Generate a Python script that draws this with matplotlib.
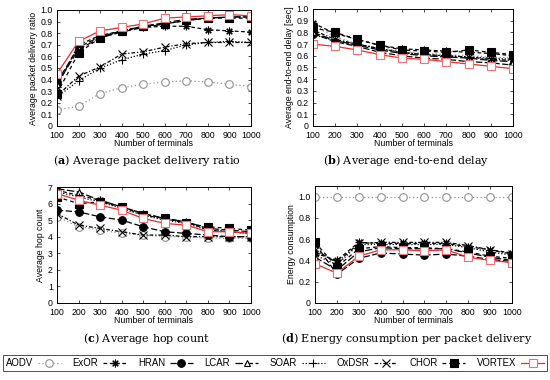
import matplotlib
matplotlib.use("Agg")
import matplotlib.pyplot as plt
from matplotlib.lines import Line2D

plt.rcParams["font.family"] = ["Liberation Sans", "DejaVu Sans"]
plt.rcParams["mathtext.fontset"] = "custom"
plt.rcParams["mathtext.rm"] = "DejaVu Serif"
plt.rcParams["mathtext.bf"] = "DejaVu Serif:bold"

# ── data ─────────────────────────────────────────────
terminals = [100, 200, 300, 400, 500, 600, 700, 800, 900, 1000]
protocols = ["AODV", "ExOR", "HRAN", "LCAR", "SOAR", "OxDSR", "CHOR", "VORTEX"]

pdr = {
    "AODV":   [0.14, 0.17, 0.28, 0.33, 0.36, 0.38, 0.39, 0.38, 0.36, 0.34],
    "ExOR":   [0.34, 0.70, 0.78, 0.82, 0.85, 0.86, 0.86, 0.83, 0.82, 0.81],
    "HRAN":   [0.38, 0.68, 0.77, 0.82, 0.86, 0.89, 0.92, 0.93, 0.94, 0.94],
    "LCAR":   [0.36, 0.66, 0.76, 0.81, 0.85, 0.88, 0.91, 0.93, 0.94, 0.94],
    "SOAR":   [0.25, 0.39, 0.50, 0.57, 0.62, 0.65, 0.70, 0.72, 0.73, 0.72],
    "OxDSR":  [0.26, 0.43, 0.51, 0.62, 0.64, 0.68, 0.71, 0.72, 0.72, 0.72],
    "CHOR":   [0.28, 0.63, 0.76, 0.82, 0.86, 0.88, 0.91, 0.93, 0.93, 0.93],
    "VORTEX": [0.45, 0.73, 0.82, 0.85, 0.88, 0.93, 0.94, 0.95, 0.96, 0.95],
}
delay = {
    "AODV":   [0.86, 0.76, 0.70, 0.67, 0.64, 0.62, 0.61, 0.60, 0.59, 0.58],
    "ExOR":   [0.88, 0.79, 0.74, 0.69, 0.66, 0.65, 0.64, 0.63, 0.62, 0.60],
    "HRAN":   [0.79, 0.72, 0.68, 0.63, 0.60, 0.58, 0.57, 0.55, 0.54, 0.52],
    "LCAR":   [0.80, 0.73, 0.69, 0.65, 0.62, 0.60, 0.59, 0.58, 0.56, 0.55],
    "SOAR":   [0.78, 0.73, 0.70, 0.66, 0.63, 0.61, 0.60, 0.59, 0.58, 0.57],
    "OxDSR":  [0.82, 0.74, 0.70, 0.66, 0.63, 0.61, 0.60, 0.59, 0.57, 0.56],
    "CHOR":   [0.84, 0.80, 0.74, 0.69, 0.65, 0.64, 0.63, 0.65, 0.63, 0.61],
    "VORTEX": [0.70, 0.68, 0.65, 0.61, 0.58, 0.57, 0.55, 0.53, 0.51, 0.49],
}
hops = {
    "AODV":   [5.2, 4.6, 4.4, 4.2, 4.1, 4.0, 4.0, 3.9, 3.9, 3.9],
    "ExOR":   [6.8, 6.5, 6.2, 5.8, 5.4, 5.1, 4.9, 4.4, 4.3, 4.2],
    "HRAN":   [5.6, 5.5, 5.2, 5.0, 4.6, 4.3, 4.2, 4.1, 4.0, 4.0],
    "LCAR":   [6.9, 6.7, 6.2, 5.8, 5.4, 5.1, 4.9, 4.5, 4.4, 4.3],
    "SOAR":   [6.7, 6.4, 6.1, 5.7, 5.3, 5.0, 4.8, 4.4, 4.3, 4.2],
    "OxDSR":  [5.4, 4.7, 4.5, 4.3, 4.1, 4.1, 4.0, 4.0, 4.0, 4.0],
    "CHOR":   [6.4, 6.0, 6.1, 5.8, 5.3, 5.1, 4.8, 4.6, 4.5, 4.4],
    "VORTEX": [6.6, 6.2, 5.9, 5.6, 5.1, 4.8, 4.7, 4.3, 4.3, 4.2],
}
energy = {
    "AODV":   [1.0, 1.0, 1.0, 1.0, 1.0, 1.0, 1.0, 1.0, 1.0, 1.0],
    "ExOR":   [0.47, 0.40, 0.57, 0.56, 0.56, 0.56, 0.56, 0.53, 0.50, 0.47],
    "HRAN":   [0.56, 0.27, 0.42, 0.47, 0.46, 0.45, 0.46, 0.44, 0.41, 0.39],
    "LCAR":   [0.43, 0.31, 0.48, 0.52, 0.51, 0.51, 0.51, 0.47, 0.43, 0.40],
    "SOAR":   [0.45, 0.36, 0.55, 0.55, 0.55, 0.55, 0.55, 0.52, 0.48, 0.45],
    "OxDSR":  [0.50, 0.38, 0.56, 0.57, 0.57, 0.57, 0.57, 0.54, 0.50, 0.46],
    "CHOR":   [0.57, 0.34, 0.51, 0.53, 0.52, 0.52, 0.51, 0.48, 0.44, 0.42],
    "VORTEX": [0.37, 0.28, 0.44, 0.50, 0.50, 0.49, 0.50, 0.43, 0.40, 0.38],
}

# gnuplot-like line styles
styles = {
    "AODV":   dict(color="#909090", ls=(0, (1, 2)), marker="o", mfc="white", mec="#909090"),
    "ExOR":   dict(color="black", ls=(0, (3, 2)), marker=(8, 2, 0), mfc="black", mec="black"),
    "HRAN":   dict(color="black", ls=(0, (5, 2)), marker="o", mfc="black", mec="black"),
    "LCAR":   dict(color="black", ls=(0, (6, 2)), marker="^", mfc="white", mec="black"),
    "SOAR":   dict(color="black", ls=(0, (1, 1.5)), marker="+", mfc="black", mec="black"),
    "OxDSR":  dict(color="black", ls=(0, (3, 1.5, 1, 1.5)), marker="x", mfc="black", mec="black"),
    "CHOR":   dict(color="black", ls=(0, (3, 2.5)), marker="s", mfc="black", mec="black"),
    "VORTEX": dict(color="#ee2a2a", ls="-", marker="s", mfc="white", mec="#f07070"),
}
msize = {"AODV": 5.5, "ExOR": 5.5, "HRAN": 5.5, "LCAR": 5.0, "SOAR": 5.5,
         "OxDSR": 5.5, "CHOR": 5.2, "VORTEX": 5.5}

W, H = 550, 380
fig = plt.figure(figsize=(W / 100, H / 100), dpi=100)
FS = 6.3


def add_panel(box, data, ylim, yticks, ylabels, ylabel, caption):
    left, top, right, bottom = box
    ax = fig.add_axes([left / W, 1 - bottom / H, (right - left) / W, (bottom - top) / H])
    for p in protocols:
        st = styles[p]
        ax.plot(terminals, data[p], color=st["color"], linestyle=st["ls"], lw=0.9,
                marker=st["marker"], markersize=msize[p], markerfacecolor=st["mfc"],
                markeredgecolor=st["mec"], markeredgewidth=0.8)
    ax.set_xlim(100, 1000)
    ax.set_ylim(*ylim)
    ax.set_xticks(terminals)
    ax.set_yticks(yticks)
    ax.set_yticklabels(ylabels)
    ax.tick_params(direction="in", top=True, right=True, labelsize=FS, length=2.5,
                   width=0.5)
    ax.tick_params(axis="x", pad=3.5)
    ax.tick_params(axis="y", pad=3)
    for s in ax.spines.values():
        s.set_linewidth(0.7)
    ax.set_xlabel("Number of terminals", fontsize=FS, labelpad=-0.5)
    ax.set_ylabel(ylabel, fontsize=FS, labelpad=2)
    cx = ((left + right) / 2 - 7) / W
    fig.text(cx, 1 - (bottom + 35) / H, caption, fontsize=8.05,
             family="DejaVu Serif", ha="center", va="center")
    return ax


r01 = [i / 10 for i in range(11)]
r01_lbl = ["0"] + [f"{v:.1f}" for v in r01[1:]]

add_panel((57, 10, 251, 126), pdr, (0, 1.0), r01, r01_lbl,
          "Average packet delivery ratio", r"($\mathbf{a}$) Average packet delivery ratio")
add_panel((313, 9, 513, 126), delay, (0, 1.0), r01, r01_lbl,
          "Average end-to-end delay [sec]", r"($\mathbf{b}$) Average end-to-end delay")
hop_ticks = list(range(8))
add_panel((57, 187, 251, 303), hops, (0, 7), hop_ticks, [str(v) for v in hop_ticks],
          "Average hop count", r"($\mathbf{c}$) Average hop count")
e_ticks = [0, 0.2, 0.4, 0.6, 0.8, 1.0]
add_panel((315, 186, 512, 303), energy, (0, 1.1), e_ticks,
          ["0"] + [f"{v:.1f}" for v in e_ticks[1:]],
          "Energy consumption", r"($\mathbf{d}$) Energy consumption per packet delivery")

handles = []
for p in protocols:
    st = styles[p]
    handles.append(Line2D([], [], color=st["color"], linestyle=st["ls"], lw=0.9,
                          marker=st["marker"], markersize=msize[p], markerfacecolor=st["mfc"],
                          markeredgecolor=st["mec"], markeredgewidth=0.8))
leg = fig.legend(handles, protocols, loc="center",
                 bbox_to_anchor=(3 / W, 1 - 372 / H, 544 / W, 18 / H), mode="expand",
                 ncol=8, fontsize=6.9, markerfirst=False, frameon=True, fancybox=False,
                 handlelength=2.4, handletextpad=0.5, columnspacing=1.0,
                 borderpad=0.3, borderaxespad=0, edgecolor="black")
leg.get_frame().set_linewidth(0.6)

fig.savefig("out.png", dpi=100)
